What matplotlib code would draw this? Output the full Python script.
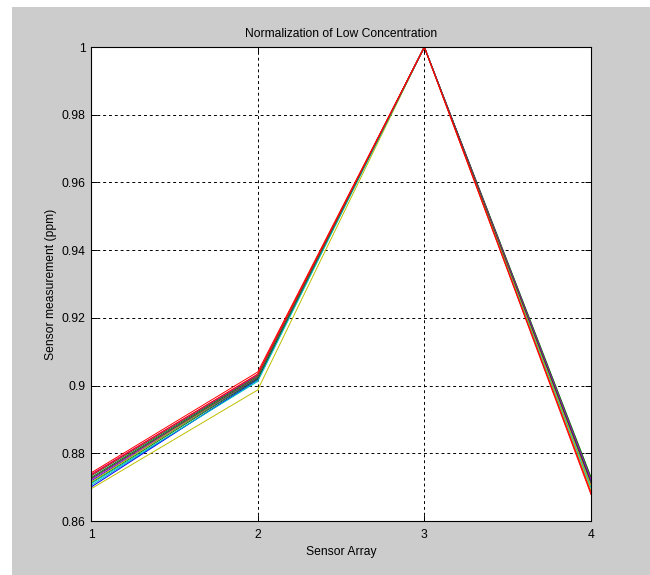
import matplotlib
matplotlib.use("Agg")
import matplotlib.pyplot as plt
from matplotlib.patches import Rectangle

plt.rcParams['font.family'] = ['Liberation Sans', 'DejaVu Sans']
plt.rcParams['font.size'] = 8.7

# sensor positions and normalized readings (one list per sample)
sensors = [1, 2, 3, 4]
samples = [
    [0.8718, 0.9022, 1.0, 0.8712],
    [0.8728, 0.9028, 1.0, 0.8725],
    [0.8705, 0.9015, 1.0, 0.8702],
    [0.8722, 0.9024, 1.0, 0.8708],
    [0.8695, 0.8987, 1.0, 0.8690],
    [0.8733, 0.9030, 1.0, 0.8716],
    [0.8700, 0.9018, 1.0, 0.8720],
    [0.8712, 0.9020, 1.0, 0.8730],
    [0.8710, 0.9012, 1.0, 0.8698],
    [0.8738, 0.9032, 1.0, 0.8722],
    [0.8715, 0.9026, 1.0, 0.8705],
    [0.8725, 0.9025, 1.0, 0.8714],
    [0.8736, 0.9034, 1.0, 0.8684],
    [0.8742, 0.9040, 1.0, 0.8678],
]

# old matlab colour order (b, g, c, m, y, k ... red drawn last)
colors = [(0, 0, 1), (0, 0.5, 0), (0, 0.75, 0.75), (0.75, 0, 0.75),
          (0.75, 0.75, 0), (0.25, 0.25, 0.25)]
red = (1, 0, 0)

fig = plt.figure(figsize=(6.5, 5.75), dpi=100, facecolor='white')
fig.patches.append(Rectangle((12 / 650, 0), 1, 1 - 7 / 575, transform=fig.transFigure,
                             facecolor='#cccccc', edgecolor='none', zorder=-1))

ax = fig.add_axes([91 / 650, 1 - 521 / 575, 500 / 650, 474 / 575])
ax.set_facecolor('white')

for i, s in enumerate(samples):
    c = red if i >= len(samples) - 2 else colors[i % len(colors)]
    ax.plot(sensors, s, color=c, lw=0.7)

ax.set_xlim(1, 4)
ax.set_ylim(0.86, 1.0)
ax.set_xticks([1, 2, 3, 4])
ax.set_yticks([0.86, 0.88, 0.9, 0.92, 0.94, 0.96, 0.98, 1.0])
ax.set_yticklabels(['0.86', '0.88', '0.9', '0.92', '0.94', '0.96', '0.98', '1'])
ax.grid(True, color='black', linestyle=(0, (3, 3)), lw=0.7)
ax.tick_params(direction='in', length=4, top=True, right=True, width=0.7)
ax.tick_params(axis='x', pad=6)
ax.tick_params(axis='y', pad=4)
for sp in ax.spines.values():
    sp.set_linewidth(0.8)

ax.set_title('Normalization of Low Concentration', fontsize=8.7, pad=7)
ax.set_xlabel('Sensor Array', labelpad=3)
ax.set_ylabel('Sensor measurement (ppm)', labelpad=3)

fig.savefig('out.png', dpi=100, facecolor=fig.get_facecolor())
